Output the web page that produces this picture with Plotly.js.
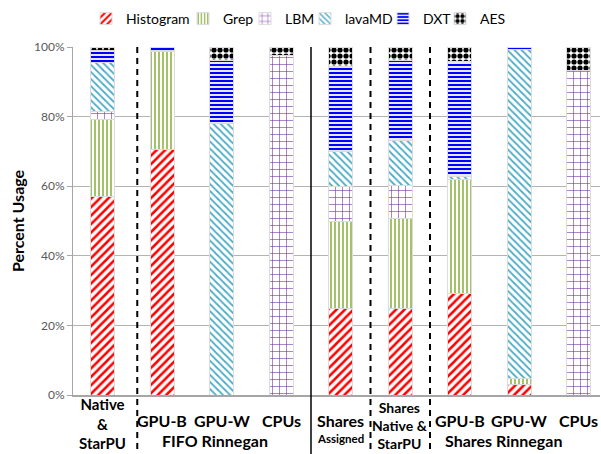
<!DOCTYPE html>
<html>
<head>
<meta charset="utf-8">
<script src="https://cdn.plot.ly/plotly-3.0.1.min.js"></script>
<style>html,body{margin:0;padding:0;background:#fff;}#chart{width:601px;height:454px;}</style>
</head>
<body>
<div id="chart"></div>
<script>
// ---- data ----
var categories = ["Native & StarPU","FIFO GPU-B","FIFO GPU-W","FIFO CPUs","Shares Assigned","Shares Native & StarPU","Shares GPU-B","Shares GPU-W","Shares CPUs"];
var seriesNames = ["Histogram","Grep","LBM","lavaMD","DXT","AES"];
var histogram = [57, 70.5, 0, 0, 25, 25, 29.2, 3.1, 0];
var grep      = [22.3, 28.2, 0, 0, 25, 25.8, 32.8, 1.5, 0];
var lbm       = [2.2, 0, 0, 97.5, 9.9, 9.3, 0, 0, 93.2];
var lavamd    = [14, 0.3, 78.1, 0, 10, 13, 0.9, 94.8, 0];
var dxt       = [3.6, 0.8, 18, 0, 24.6, 22.9, 32.8, 0.6, 0];
var aes       = [0.9, 0.2, 3.9, 2.5, 5.5, 4, 4.3, 0, 6.8];
var yTickVals = [0, 20, 40, 60, 80, 100];
var yTickText = ["0%", "20%", "40%", "60%", "80%", "100%"];
// tick label lines per category: [text, fontSize, row]
var tickLabels = [
  [["Native<br>&<br>StarPU", 15, "mid3a"]],
  [["GPU-B", 16, "top"]],
  [["GPU-W", 16, "top"]],
  [["CPUs", 16, "top"]],
  [["Shares", 16, "top"], ["Assigned", 11.5, "sub"]],
  [["Shares<br>Native &<br>StarPU", 14, "mid3b"]],
  [["GPU-B", 16, "top"]],
  [["GPU-W", 16, "top"]],
  [["CPUs", 16, "top"]]
];
var groupLabels = ["FIFO Rinnegan", "Shares Rinnegan"];
var groupLabelX = [1.88, 6.73];
var separators = [[0.58, "dash"], [3.5, "solid"], [4.5, "dash"], [5.5, "dash"]];

// ---- styles ----
var styles = [
  {color: "#FF0000", shape: "/", size: 6, solidity: 0.42},
  {color: "#9BBB59", shape: "|", size: 4, solidity: 0.45},
  {color: "#7030A0", shape: "+", size: 7, solidity: 0.16},
  {color: "#4BACC6", shape: "\\", size: 5, solidity: 0.35},
  {color: "#0000FF", shape: "-", size: 4, solidity: 0.55},
  {color: "#000000", shape: ".", size: 6, solidity: 0.6}
];
var legendTextX = [126, 223, 285, 345, 423, 480]; // px where legend text starts
var values = [histogram, grep, lbm, lavamd, dxt, aes];
var W = 601, H = 454;
var fontFam = "Lato, 'Open Sans', sans-serif";

var traces = seriesNames.map(function(name, i) {
  var s = styles[i];
  return {
    type: "bar", name: name, x: categories, y: values[i],
    legend: i === 0 ? "legend" : "legend" + (i + 1),
    marker: {
      color: s.color,
      line: {color: "#dcdcdc", width: 1},
      pattern: {shape: s.shape, size: s.size, solidity: s.solidity, fillmode: "replace", bgcolor: "#ffffff"}
    },
    hoverinfo: "name+y"
  };
});

var plotH = 348, bottomPx = 395;
function pyPaper(py) { return (bottomPx - py) / plotH; }
var xRange = [-0.5, -0.5 + 527 / 59.5];
function pxPaper(v) { return (v - xRange[0]) / (xRange[1] - xRange[0]); }

var annotations = [];
var rowY = {top: 420, sub: 438, mid3a: 423, mid3b: 425};
tickLabels.forEach(function(lines, i) {
  lines.forEach(function(l) {
    annotations.push({
      xref: "x", yref: "paper", x: i, y: pyPaper(rowY[l[2]]),
      text: l[0], showarrow: false, xanchor: "center", yanchor: "middle",
      font: {family: fontFam, size: l[1], color: "#000", weight: "bold"}
    });
  });
});
groupLabels.forEach(function(g, k) {
  annotations.push({
    xref: "x", yref: "paper", x: groupLabelX[k], y: pyPaper(440),
    text: g, showarrow: false, xanchor: "center", yanchor: "middle",
    font: {family: fontFam, size: 16, color: "#000", weight: "bold"}
  });
});

var shapes = separators.map(function(s) {
  var xp = pxPaper(s[0]);
  return {
    type: "line", xref: "paper", yref: "paper", x0: xp, x1: xp, y0: 1, y1: pyPaper(454),
    line: {color: "#000", width: s[1] === "solid" ? 1.5 : 2, dash: s[1] === "solid" ? "solid" : "6px,5px"}
  };
});

var layout = {
  width: W, height: H,
  margin: {l: 73, r: 1, t: 47, b: 59},
  barmode: "stack",
  bargap: 0.6,
  paper_bgcolor: "#fff", plot_bgcolor: "#fff",
  font: {family: fontFam, size: 12, color: "#000"},
  showlegend: true,
  xaxis: {
    type: "category", range: xRange, showticklabels: false,
    showline: true, linecolor: "#a6a6a6", linewidth: 2, ticks: "", showgrid: false, fixedrange: true
  },
  yaxis: {
    range: [0, 100], tickvals: yTickVals, ticktext: yTickText,
    showline: true, linecolor: "#a6a6a6", linewidth: 1,
    ticks: "outside", ticklen: 5, tickcolor: "#a6a6a6",
    showgrid: true, gridcolor: "#b3b3b3", gridwidth: 1,
    tickfont: {family: fontFam, size: 12, color: "#595959"},
    title: {text: "Percent Usage", font: {family: fontFam, size: 16, color: "#000", weight: "bold"}, standoff: 5},
    zeroline: false, fixedrange: true
  },
  annotations: annotations,
  shapes: shapes
};
seriesNames.forEach(function(name, i) {
  var key = i === 0 ? "legend" : "legend" + (i + 1);
  layout[key] = {
    orientation: "h", xref: "container", yref: "container",
    x: (legendTextX[i] - 40) / W, xanchor: "left", y: 1 - 3 / H, yanchor: "top",
    font: {family: fontFam, size: 14, color: "#000"}, itemwidth: 30, bgcolor: "rgba(0,0,0,0)"
  };
});

Plotly.newPlot("chart", traces, layout, {displayModeBar: false, staticPlot: true});
</script>
</body>
</html>
